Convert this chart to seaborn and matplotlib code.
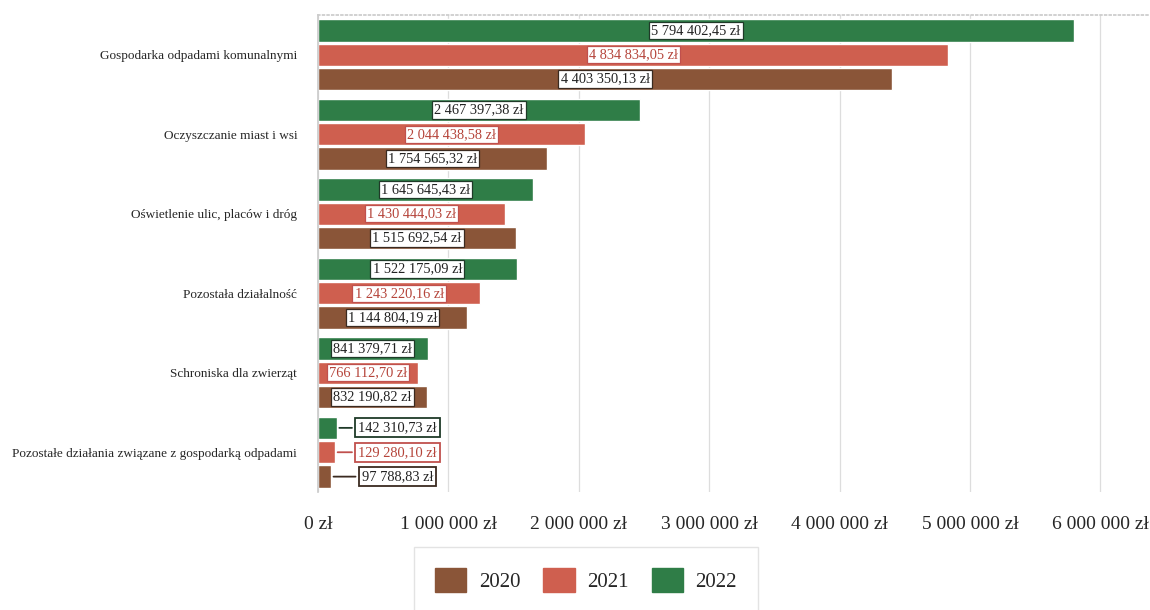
import pandas as pd
import matplotlib
matplotlib.use('Agg')
import matplotlib.pyplot as plt
import seaborn as sns

# ── Data ──────────────────────────────────────────────────────
categories = [
    "Gospodarka odpadami komunalnymi",
    "Oczyszczanie miast i wsi",
    "Oświetlenie ulic, placów i dróg",
    "Pozostała działalność",
    "Schroniska dla zwierząt",
    "Pozostałe działania związane z gospodarką odpadami",
]
years = ["2020", "2021", "2022"]
v2020 = [4403350.13, 1754565.32, 1515692.54, 1144804.19, 832190.82, 97788.83]
v2021 = [4834834.05, 2044438.58, 1430444.03, 1243220.16, 766112.70, 129280.10]
v2022 = [5794402.45, 2467397.38, 1645645.43, 1522175.09, 841379.71, 142310.73]

df = pd.DataFrame({
    "Kategoria": categories * 3,
    "Rok": ["2020"] * 6 + ["2021"] * 6 + ["2022"] * 6,
    "Kwota": v2020 + v2021 + v2022,
})

# ── Style ─────────────────────────────────────────────────────
sns.set_theme(style="whitegrid")
plt.rcParams['font.family'] = ['Liberation Serif', 'DejaVu Serif']
COLORS = {"2020": "#8a5538", "2021": "#cf5f4f", "2022": "#2f7d47"}
TEXT_COLORS = {"2020": "#222222", "2021": "#b5443a", "2022": "#222222"}
EDGE_COLORS = {"2020": "#3a2a20", "2021": "#c0504d", "2022": "#1f3a28"}


def fmt_zl(v, dec=True):
    if dec:
        s = f"{v:,.2f}".replace(",", " ").replace(".", ",")
    else:
        s = f"{v:,.0f}".replace(",", " ")
    return s + " zł"


fig = plt.figure(figsize=(11.5, 6.1), dpi=100)
ax = fig.add_axes([318 / 1150, 1 - 492 / 610, 1 - 318 / 1150, (492 - 15) / 610])

hue_order = ["2022", "2021", "2020"]
sns.barplot(data=df, y="Kategoria", x="Kwota", hue="Rok", hue_order=hue_order,
            order=categories, palette=COLORS, orient="h", width=0.92, gap=0.08,
            saturation=1, ax=ax, legend=False)

ax.set_xlim(0, 6.38e6)
ax.set_xlabel("")
ax.set_ylabel("")
ticks = [0, 1e6, 2e6, 3e6, 4e6, 5e6, 6e6]
ax.set_xticks(ticks)
ax.set_xticklabels([fmt_zl(t, dec=False) for t in ticks], fontsize=14)
ax.tick_params(axis='x', pad=17, length=0)
ax.tick_params(axis='y', labelsize=9.5, pad=15, length=0)
ax.grid(axis='x', color='#dddddd', lw=0.9)
ax.grid(axis='y', visible=False)
for side in ['right', 'bottom']:
    ax.spines[side].set_visible(False)
ax.spines['left'].set_color('#cccccc')
ax.spines['top'].set_color('#cccccc')
ax.spines['top'].set_linestyle(':')

# value labels
for cont, yr in zip(ax.containers, hue_order):
    for bar in cont:
        w = bar.get_width()
        yc = bar.get_y() + bar.get_height() / 2
        box = dict(boxstyle='square,pad=0.15', fc='white', ec=EDGE_COLORS[yr], lw=0.9)
        if w > 5e5:
            ax.text(w / 2, yc, fmt_zl(w), ha='center', va='center', fontsize=10.4,
                    color=TEXT_COLORS[yr], bbox=box)
        else:
            ax.annotate(fmt_zl(w), xy=(w, yc), xytext=(6.1e5, yc), ha='center',
                        va='center', fontsize=10.4, color=TEXT_COLORS[yr],
                        bbox=dict(boxstyle='square,pad=0.2', fc='white',
                                  ec=EDGE_COLORS[yr], lw=1.3),
                        arrowprops=dict(arrowstyle='-', color=EDGE_COLORS[yr], lw=1.3))

# legend
handles = [plt.Rectangle((0, 0), 1, 1, color=COLORS[y]) for y in years]
leg = fig.legend(handles, years, loc='center', ncol=3,
                 bbox_to_anchor=(586 / 1150, 1 - 580 / 610), fontsize=15,
                 frameon=True, handlelength=1.5, handleheight=1.4,
                 columnspacing=1.1, handletextpad=0.6, borderpad=1.0,
                 fancybox=False, edgecolor='#dddddd')

plt.savefig("out.png", dpi=100)
plt.close()
